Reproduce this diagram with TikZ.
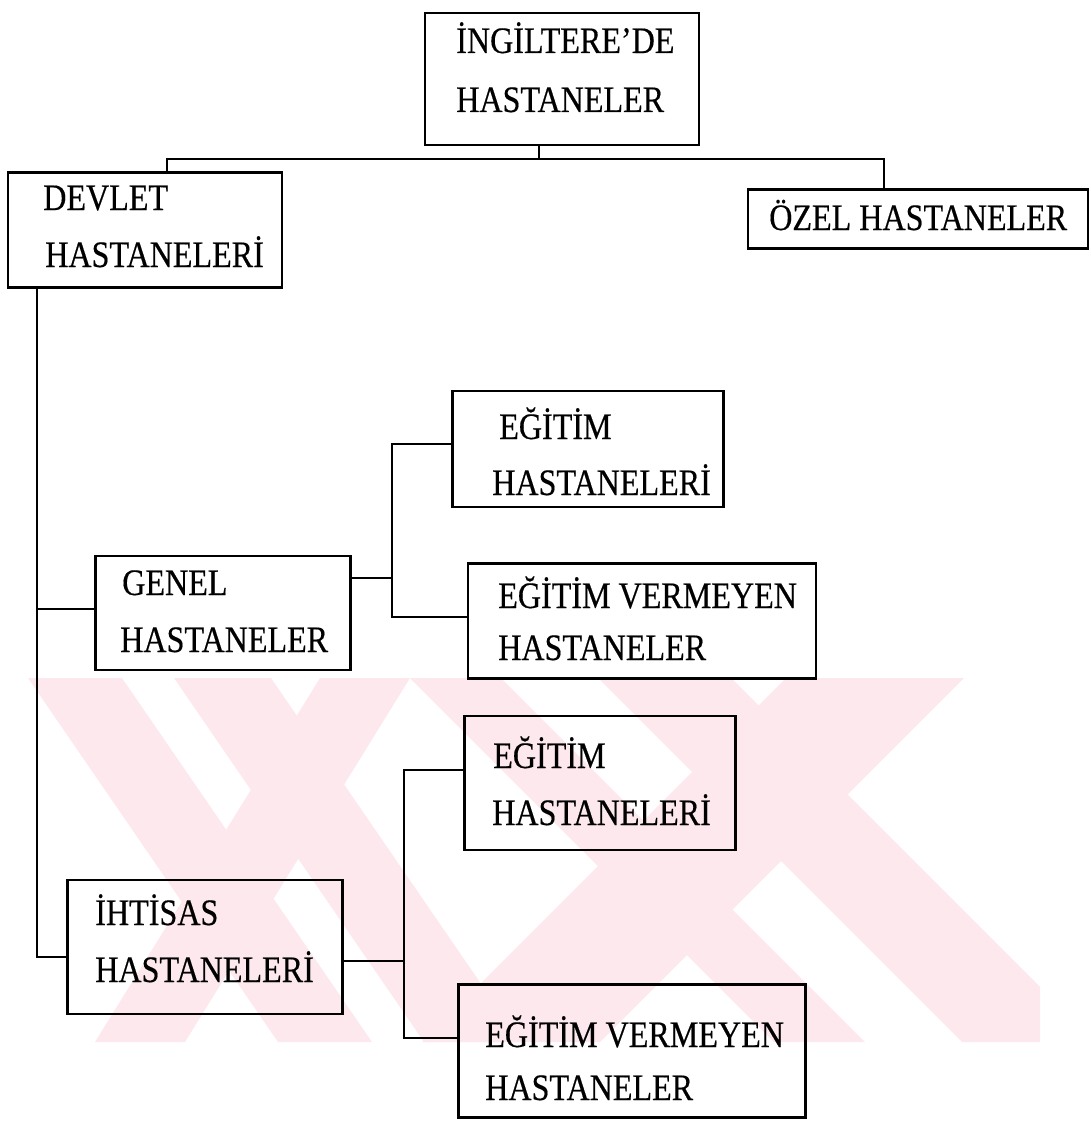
\documentclass[tikz,border=0pt]{standalone}
\usepackage{fontspec}
\setmainfont{Liberation Serif}[FakeStretch=0.86, FakeBold=0.4]
\usetikzlibrary{positioning}

\definecolor{wmpink}{RGB}{252,232,237}

\tikzset{
  orgbox/.style={draw=black, line width=2.1pt, rectangle, inner sep=0pt},
  lbl/.style={inner sep=0pt, anchor=base west, font=\fontsize{28}{34}\selectfont},
  link/.style={draw=black, line width=2.1pt, line join=miter},
  wm/.style={fill=wmpink, draw=none},
}

% slanted band of the pale emblem: top-left x, top-right x, bottom-left x, bottom-right x
\newcommand{\wmband}[4]{\fill[wm] (#1,678) -- (#2,678) -- (#4,1042) -- (#3,1042) -- cycle;}

\begin{document}
\begin{tikzpicture}[x=0.75pt, y=-0.75pt]
  \useasboundingbox (0,0) rectangle (1091,1124);

  % pale background emblem made of crossing slanted bands
  \begin{scope}
    \clip (0,678) rectangle (1040,1042);
    \wmband{28}{122}{278}{372}
    \wmband{174}{271}{424}{521}
    \wmband{320}{410}{95}{185}
    \wmband{410}{501}{774}{865}
    \wmband{598}{731}{962}{1095}
    \wmband{786}{964}{422}{600}
  \end{scope}

  % boxes
  \node[orgbox, minimum width=274*0.75pt, minimum height=132*0.75pt] (root)      at (562,79)   {};
  \node[orgbox, minimum width=274*0.75pt, minimum height=115*0.75pt] (devlet)    at (145,230)  {};
  \node[orgbox, minimum width=340*0.75pt, minimum height=59*0.75pt]  (ozel)      at (918,219)  {};
  \node[orgbox, minimum width=255*0.75pt, minimum height=114*0.75pt] (genel)     at (223,613)  {};
  \node[orgbox, minimum width=271*0.75pt, minimum height=116*0.75pt] (egitimA)   at (588,449)  {};
  \node[orgbox, minimum width=348*0.75pt, minimum height=115*0.75pt] (vermeyenA) at (642,621)  {};
  \node[orgbox, minimum width=271*0.75pt, minimum height=134*0.75pt] (egitimB)   at (600,783)  {};
  \node[orgbox, minimum width=275*0.75pt, minimum height=134*0.75pt] (ihtisas)   at (205,947)  {};
  \node[orgbox, minimum width=347*0.75pt, minimum height=133*0.75pt] (vermeyenB) at (632,1051) {};

  % labels, one line each
  \node[lbl] (rootA) at (456,53)  {İNGİLTERE’DE};
  \node[lbl] (rootB) at (456,112) {HASTANELER};
  \node[lbl] (devletA) at (43,210) {DEVLET};
  \node[lbl] (devletB) at (45,267) {HASTANELERİ};
  \node[lbl] (ozelA) at (769,230) {ÖZEL HASTANELER};
  \node[lbl] (genelA) at (122,595) {GENEL};
  \node[lbl] (genelB) at (120,652) {HASTANELER};
  \node[lbl] (egitimAa) at (499,439) {EĞİTİM};
  \node[lbl] (egitimAb) at (492,495) {HASTANELERİ};
  \node[lbl] (vermeyenAa) at (498,608) {EĞİTİM VERMEYEN};
  \node[lbl] (vermeyenAb) at (498,660) {HASTANELER};
  \node[lbl] (egitimBa) at (493,768) {EĞİTİM};
  \node[lbl] (egitimBb) at (492,825) {HASTANELERİ};
  \node[lbl] (ihtisasA) at (95,925) {İHTİSAS};
  \node[lbl] (ihtisasB) at (95,982) {HASTANELERİ};
  \node[lbl] (vermeyenBa) at (485,1047) {EĞİTİM VERMEYEN};
  \node[lbl] (vermeyenBb) at (485,1100) {HASTANELER};

  % junction points
  \coordinate (jT) at (539,159);
  \coordinate (jL) at (167,159);
  \coordinate (jR) at (884,159);
  \coordinate (tA) at (37,609);
  \coordinate (tB) at (37,957);
  \coordinate (g)  at (392,578);
  \coordinate (g1) at (392,444);
  \coordinate (g2) at (392,617);
  \coordinate (h)  at (404,961);
  \coordinate (h1) at (404,770);
  \coordinate (h2) at (404,1038);

  % top level
  \draw[link] (root.south -| jT) -- (jT);
  \draw[link] (devlet.north -| jL) -- (jL) -- (jR) -- (ozel.north -| jR);

  % public hospitals trunk
  \draw[link] (devlet.south -| tA) -- (tB) -- (ihtisas.west |- tB);
  \draw[link] (tA) -- (genel.west |- tA);

  % general hospitals
  \draw[link] (genel.east |- g) -- (g);
  \draw[link] (egitimA.west |- g1) -- (g1) -- (g2) -- (vermeyenA.west |- g2);

  % specialist hospitals
  \draw[link] (ihtisas.east |- h) -- (h);
  \draw[link] (egitimB.west |- h1) -- (h1) -- (h2) -- (vermeyenB.west |- h2);
\end{tikzpicture}
\end{document}
